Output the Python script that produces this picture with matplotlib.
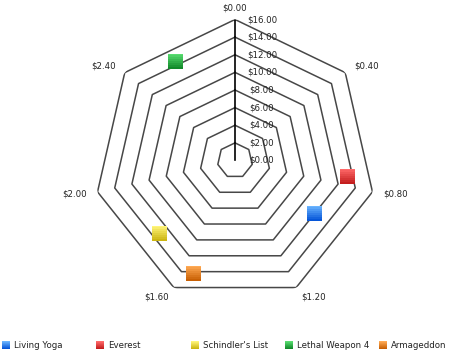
import numpy as np
import matplotlib
matplotlib.use("Agg")
import matplotlib.pyplot as plt
from matplotlib.colors import to_rgb

# angle axis runs 0..2.8, radial axis 0..16
angle_max = 2.8
angle_ticks = [0.0, 0.4, 0.8, 1.2, 1.6, 2.0, 2.4]
angle_labels = ["$0.00", "$0.40", "$0.80", "$1.20", "$1.60", "$2.00", "$2.40"]
radial_ticks = [0, 2, 4, 6, 8, 10, 12, 14, 16]
radial_labels = ["$0.00", "$2.00", "$4.00", "$6.00", "$8.00",
                 "$10.00", "$12.00", "$14.00", "$16.00"]

series_names = ["Living Yoga", "Everest", "Schindler's List", "Lethal Weapon 4", "Armageddon"]
series_x = [0.96, 0.76, 1.76, 2.56, 1.56]
series_y = [10.75, 12.8, 11.9, 13.2, 13.6]
color_top = ["#6ab4ff", "#ff6a6a", "#fff57a", "#58dc70", "#ffaa55"]
color_bot = ["#0656d8", "#c41e1e", "#cdb612", "#128a2a", "#c86004"]

txt = "#222222"
fs = 6.2
nband = 8

def to_theta(v):
    return np.asarray(v) / angle_max * 2 * np.pi

def band_marker(k):
    # square marker filled from the bottom of band k up to the top edge
    y0 = -1 + 2 * k / nband
    return [(-1, y0), (1, y0), (1, 1), (-1, 1), (-1, y0)]

def gradient_square(axis, x, y, ms, c1, c2, **kw):
    c1, c2 = np.array(to_rgb(c1)), np.array(to_rgb(c2))
    for k in range(nband):
        f = k / (nband - 1)
        col = c2 * (1 - f) + c1 * f
        axis.plot(x, y, marker=band_marker(k), ms=ms, ls="none", color=col,
                  markeredgewidth=0, **kw)

fig = plt.figure(figsize=(4.54, 3.52), dpi=100)
ax = fig.add_axes([94 / 454, 50.5 / 352, 282 / 454, 282 / 352], projection="polar")
ax.set_theta_zero_location("N")
ax.set_theta_direction(-1)
ax.set_ylim(0, 16)
ax.grid(False)
ax.set_xticks([])
ax.set_yticks([])
ax.spines["polar"].set_visible(False)
ax.patch.set_visible(False)

# heptagon rings
vert = to_theta(angle_ticks + [angle_max])
for r in radial_ticks[1:]:
    ax.plot(vert, [r] * len(vert), color="#474747", lw=1.1, zorder=1)

# radial axis line
ax.plot([0, 0], [0, 16], color="black", lw=1.2, zorder=2)
for r, lab in zip(radial_ticks, radial_labels):
    ax.annotate(lab, xy=(0, r), xytext=(27, 0), textcoords="offset pixels",
                ha="center", va="center", fontsize=fs, color=txt)

# angle labels
for a, lab in zip(angle_ticks, angle_labels):
    t = to_theta(a)
    s, c = np.sin(t), np.cos(t)
    ha = "left" if s > 0.1 else ("right" if s < -0.1 else "center")
    ax.annotate(lab, xy=(t, 16), xytext=(11 * s, 11 * c), textcoords="offset pixels",
                ha=ha, va="center", fontsize=fs, color=txt, annotation_clip=False)

# points
for i in range(len(series_names)):
    gradient_square(ax, to_theta(series_x[i]), series_y[i], 10.8,
                    color_top[i], color_bot[i], zorder=3, clip_on=False)

# legend along the bottom
lax = fig.add_axes([0, 0, 1, 30 / 352])
lax.set_xlim(0, 454)
lax.set_ylim(0, 30)
lax.axis("off")
for i, name in enumerate(series_names):
    x0 = 6 + i * 94.3
    gradient_square(lax, x0, 7, 5.8, color_top[i], color_bot[i])
    lax.text(x0 + 8, 7, name, ha="left", va="center", fontsize=fs, color=txt)

fig.savefig("out.png", dpi=100)
